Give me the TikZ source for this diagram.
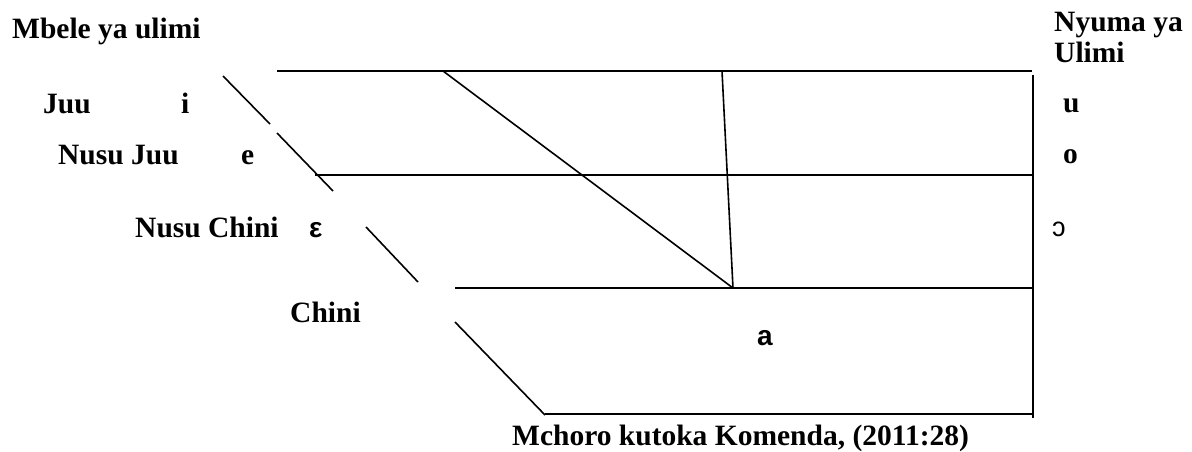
\documentclass[tikz,border=0pt]{standalone}
\usepackage{fontspec}
\setmainfont{Liberation Serif}
\newfontfamily\sansf{Liberation Sans}
\begin{document}
\begin{tikzpicture}[x=1pt,y=-1pt,
  ln/.style={line width=1.6pt, black},
  lbl/.style={anchor=base west, inner sep=0pt, font=\fontsize{29.5}{32}\selectfont\bfseries},
  vow/.style={anchor=base west, inner sep=0pt, font=\fontsize{29.5}{32}\selectfont\bfseries},
  svow/.style={anchor=base west, inner sep=0pt, font=\sansf\fontsize{28}{30}\selectfont\bfseries}]
\useasboundingbox (0,0) rectangle (1192,451);
% grid coordinates
\coordinate (t1) at (277,71);   \coordinate (t2) at (1032,71);
\coordinate (m1) at (315,175);  \coordinate (m2) at (1032,175);
\coordinate (l1) at (455,288);  \coordinate (l2) at (1032,288);
\coordinate (b1) at (545,414);  \coordinate (b2) at (1033,414);
\coordinate (r1) at (1033,75);  \coordinate (r2) at (1033,418);
\coordinate (d1a) at (223,76);  \coordinate (d1b) at (270,124);
\coordinate (d2a) at (277,133); \coordinate (d2b) at (333,191);
\coordinate (d3a) at (366,227); \coordinate (d3b) at (418,282);
\coordinate (d4a) at (455,322); \coordinate (d4b) at (545,415);
\coordinate (ia) at (443,71);   \coordinate (ib) at (733,288);
\coordinate (va) at (722,71);
% lines
\draw[ln] (t1) -- (t2);
\draw[ln] (m1) -- (m2);
\draw[ln] (l1) -- (l2);
\draw[ln] (b1) -- (b2);
\draw[ln] (r1) -- (r2);
\draw[ln] (d1a) -- (d1b);
\draw[ln] (d2a) -- (d2b);
\draw[ln] (d3a) -- (d3b);
\draw[ln] (d4a) -- (d4b);
\draw[ln] (ia) -- (ib);
\draw[ln] (va) -- (ib);
% labels
\node[lbl] (mbele) at (12,38) {Mbele ya ulimi};
\node[lbl] (nyuma) at (1054,31) {Nyuma ya};
\node[lbl] (ulimi) at (1054,62) {Ulimi};
\node[lbl] (juu) at (43,113) {Juu};
\node[vow] (vi) at (181,113) {i};
\node[lbl] (nusujuu) at (58,164) {Nusu Juu};
\node[vow] (ve) at (241,164) {e};
\node[lbl] (nusuchini) at (135,237) {Nusu Chini};
\node[svow] (veps) at (309,237) {ε};
\node[lbl] (chini) at (290,322) {Chini};
\node[svow] (va2) at (757,345) {a};
\node[vow] (vu) at (1063,112) {u};
\node[vow] (vo) at (1063,163) {o};
\node[anchor=base west, inner sep=0pt, font=\sansf\fontsize{27}{30}\selectfont] (vc) at (1052,236) {ɔ};
\node[lbl] (caption) at (512,445) {Mchoro kutoka Komenda, (2011:28)};
\end{tikzpicture}
\end{document}
